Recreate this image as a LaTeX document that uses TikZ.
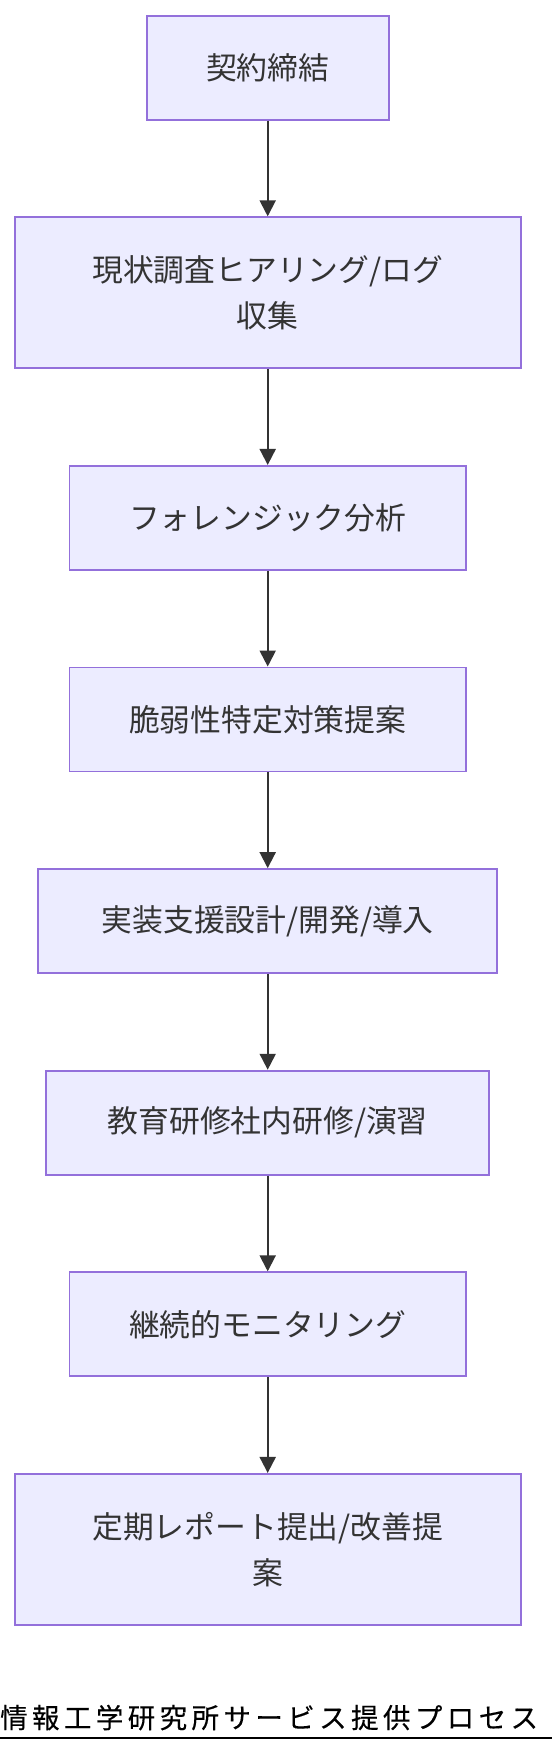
\documentclass[tikz,border=0pt]{standalone}
\usepackage{fontspec}
\setmainfont{Noto Sans CJK JP}
\newfontfamily\jpfont{Noto Sans CJK JP}
\newfontfamily\titlefont[LetterSpace=16,FakeBold=0.3]{Noto Sans CJK JP}
\usetikzlibrary{arrows.meta}
\definecolor{boxfill}{HTML}{ECECFF}
\definecolor{boxline}{HTML}{9370DB}
\definecolor{ink}{HTML}{333333}
\tikzset{
  procbox/.style={draw=boxline, fill=boxfill, line width=1.9pt, inner sep=0pt,
    minimum height=104pt, text=ink, align=center,
    font=\jpfont\fontsize{30.8}{46}\selectfont},
  tallbox/.style={procbox, minimum height=151pt},
  flow/.style={draw=ink, line width=2pt, -{Triangle[length=16pt,width=16pt]}},
}
\begin{document}
\begin{tikzpicture}[x=1pt,y=-1pt]
  \useasboundingbox (0,0) rectangle (552,1756);
  \node[procbox, minimum width=242pt] (n1) at (267.7,67.7) {契約締結};
  \node[tallbox, minimum width=506pt] (n2) at (267.7,292.8) {現状調査ヒアリング/ログ\\収集};
  \node[procbox, minimum width=396.5pt] (n3) at (267.7,517.9) {フォレンジック分析};
  \node[procbox, minimum width=396.5pt] (n4) at (267.7,719.5) {脆弱性特定対策提案};
  \node[procbox, minimum width=459pt] (n5) at (267.7,921.1) {実装支援設計/開発/導入};
  \node[procbox, minimum width=443pt] (n6) at (267.7,1122.7) {教育研修社内研修/演習};
  \node[procbox, minimum width=396.5pt] (n7) at (267.7,1324.3) {継続的モニタリング};
  \node[tallbox, minimum width=506pt] (n8) at (267.7,1549.4) {定期レポート提出/改善提\\案};
  \draw[flow] (n1) -- (n2);
  \draw[flow] (n2) -- (n3);
  \draw[flow] (n3) -- (n4);
  \draw[flow] (n4) -- (n5);
  \draw[flow] (n5) -- (n6);
  \draw[flow] (n6) -- (n7);
  \draw[flow] (n7) -- (n8);
  \node[anchor=base west, inner sep=0pt, text=black,
    font=\titlefont\fontsize{27.5}{32}\selectfont] (title) at (0,1728) {情報工学研究所サービス提供プロセス};
  \coordinate (ulL) at (0,1737.5);
  \coordinate (ulR) at (552,1737.5);
  \draw[line width=2pt, black] (ulL) -- (ulR);
\end{tikzpicture}
\end{document}
